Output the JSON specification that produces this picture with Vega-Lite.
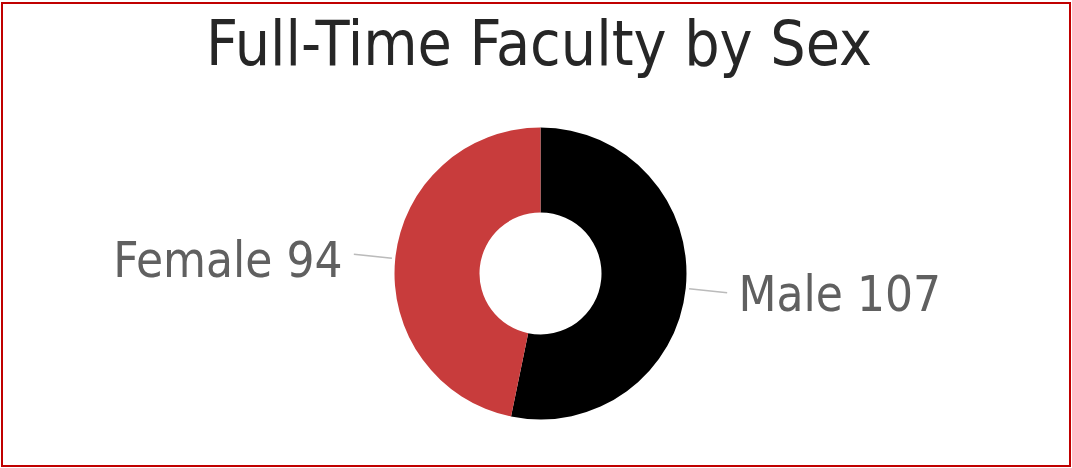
{
  "$schema": "https://vega.github.io/schema/vega-lite/v6.json",
  "width": 1068,
  "height": 463,
  "autosize": "none",
  "padding": {"left": 2, "right": 2, "top": 3, "bottom": 2},
  "background": "white",
  "config": {
    "view": {"stroke": "#c00000", "strokeWidth": 2},
    "style": {"view": {"stroke": "#c00000", "strokeWidth": 2}, "cell": {"stroke": "#c00000", "strokeWidth": 2}}
  },
  "data": {
    "values": [
      {"sex": "Male", "count": 107},
      {"sex": "Female", "count": 94}
    ]
  },
  "transform": [
    {"calculate": "datum.sex + ' ' + datum.count", "as": "label"},
    {"joinaggregate": [{"op": "sum", "field": "count", "as": "total"}]},
    {"window": [{"op": "sum", "field": "count", "as": "cum"}], "sort": [{"field": "sex", "order": "descending"}], "frame": [null, 0]},
    {"calculate": "2 * PI * (datum.cum - datum.count / 2) / datum.total", "as": "mid"},
    {"calculate": "datum.mid + 0.002", "as": "mid2"}
  ],
  "layer": [
    {
      "mark": {"type": "arc", "outerRadius": 146, "innerRadius": 61, "xOffset": 4.5, "yOffset": 39},
      "encoding": {
        "theta": {"field": "count", "type": "quantitative", "stack": true},
        "order": {"field": "sex", "sort": "descending"},
        "color": {
          "field": "sex",
          "type": "nominal",
          "scale": {"domain": ["Male", "Female"], "range": ["#000000", "#c83c3c"]},
          "legend": null
        }
      }
    },
    {
      "mark": {"type": "arc", "outerRadius": 187, "innerRadius": 150, "filled": false, "stroke": "#bbbbbb", "strokeWidth": 1.3, "xOffset": 4.5, "yOffset": 39},
      "encoding": {
        "theta": {"field": "mid", "type": "quantitative", "scale": null},
        "theta2": {"field": "mid2"}
      }
    },
    {
      "transform": [{"filter": "datum.sex == 'Male'"}],
      "mark": {"type": "text", "radius": 199, "align": "left", "baseline": "middle", "font": "DejaVu Sans Condensed", "fontSize": 49, "color": "#606060", "xOffset": 4.5, "yOffset": 39, "dy": 2},
      "encoding": {
        "theta": {"field": "mid", "type": "quantitative", "scale": null},
        "text": {"field": "label"}
      }
    },
    {
      "transform": [{"filter": "datum.sex == 'Female'"}],
      "mark": {"type": "text", "radius": 199, "align": "right", "baseline": "middle", "font": "DejaVu Sans Condensed", "fontSize": 49, "color": "#606060", "xOffset": 4.5, "yOffset": 39, "dy": 8.5},
      "encoding": {
        "theta": {"field": "mid", "type": "quantitative", "scale": null},
        "text": {"field": "label"}
      }
    },
    {
      "data": {"values": [{"title": "Full-Time Faculty by Sex"}]},
      "mark": {"type": "text", "align": "center", "baseline": "alphabetic", "font": "DejaVu Sans Condensed", "fontSize": 62, "color": "#262626", "dx": 3, "dy": -169.5},
      "encoding": {
        "text": {"field": "title"}
      }
    }
  ]
}
